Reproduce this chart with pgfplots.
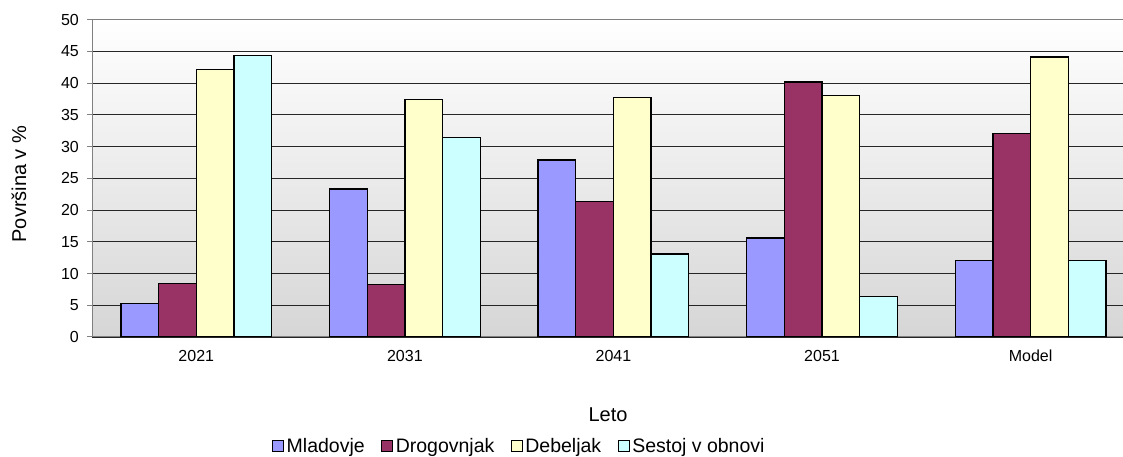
\documentclass[border=0pt]{standalone}
\usepackage{fontspec}
\setmainfont{Liberation Sans}
\usepackage{pgfplots}
\pgfplotsset{compat=1.18}

\definecolor{mlad}{HTML}{9999FF}
\definecolor{drog}{HTML}{993366}
\definecolor{deb}{HTML}{FFFFCC}
\definecolor{obn}{HTML}{CCFFFF}
\definecolor{framegray}{HTML}{808080}
\definecolor{bggray}{HTML}{D6D6D6}

\begin{document}
\begin{tikzpicture}[x=1pt,y=1pt]
\useasboundingbox (0,0) rectangle (1123,457);
\begin{axis}[
  at={(92pt,120pt)}, anchor=south west,
  scale only axis, width=1031pt, height=317.3pt,
  ybar=0pt, bar width=37.7pt,
  xmin=-0.5, xmax=4.443, ymin=0, ymax=50,
  axis x line*=bottom, axis y line*=left,
  axis line style={draw=framegray, line width=1pt},
  axis background/.style={shade, top color=white, bottom color=bggray},
  xtick={0,1,2,3,4},
  xticklabels={2021,2031,2041,2051,Model},
  major x tick style={draw=none},
  extra x ticks={-0.5,0.5,1.5,2.5,3.5},
  extra x tick labels={},
  extra x tick style={major tick length=5pt, tick align=outside,
    tick style={draw=framegray, line width=1pt}},
  ytick={0,5,...,45},
  extra y ticks={50},
  extra y tick style={grid style={draw=framegray, line width=1pt}},
  ymajorgrids,
  grid style={draw=black!85, line width=0.9pt},
  major tick length=5pt, tick align=outside,
  y tick style={draw=framegray, line width=1pt},
  /pgf/number format/assume math mode=true,
  ticklabel style={font=\fontsize{16}{19}\selectfont, text=black},
  xticklabel style={anchor=base, yshift=-20pt},
  yticklabel style={anchor=east, inner sep=0pt, xshift=-8pt},
  xlabel={Leto},
  ylabel={Površina v \%},
  label style={font=\fontsize{20}{24}\selectfont},
  xlabel style={at={(rel axis cs:0.5005,-0.2458)}, anchor=center},
  ylabel style={at={(rel axis cs:-0.0708,0.482)}, anchor=center, rotate=0},
  every axis plot/.append style={draw=black, line width=1.3pt},
  legend image code/.code={\draw[#1, line width=1pt] (0pt,-5.5pt) rectangle (11pt,5.5pt);},
  legend style={at={(rel axis cs:0.1746,-0.3435)}, anchor=west,
    draw=none, fill=none, inner sep=0pt,
    font=\fontsize{19.5}{23}\selectfont,
    legend columns=-1,
    /tikz/every even column/.append style={column sep=14pt},
    nodes={inner sep=2.5pt}},
]
\addplot[fill=mlad] coordinates {(0,5.25) (1,23.3) (2,27.9) (3,15.6) (4,12.1)};
\addplot[fill=drog] coordinates {(0,8.45) (1,8.3) (2,21.4) (3,40.2) (4,32.1)};
\addplot[fill=deb]  coordinates {(0,42.2) (1,37.4) (2,37.7) (3,38.0) (4,44.1)};
\addplot[fill=obn]  coordinates {(0,44.4) (1,31.4) (2,13.1) (3,6.35) (4,12.1)};
\legend{Mladovje,Drogovnjak,Debeljak,Sestoj v obnovi}
\end{axis}
\end{tikzpicture}
\end{document}
